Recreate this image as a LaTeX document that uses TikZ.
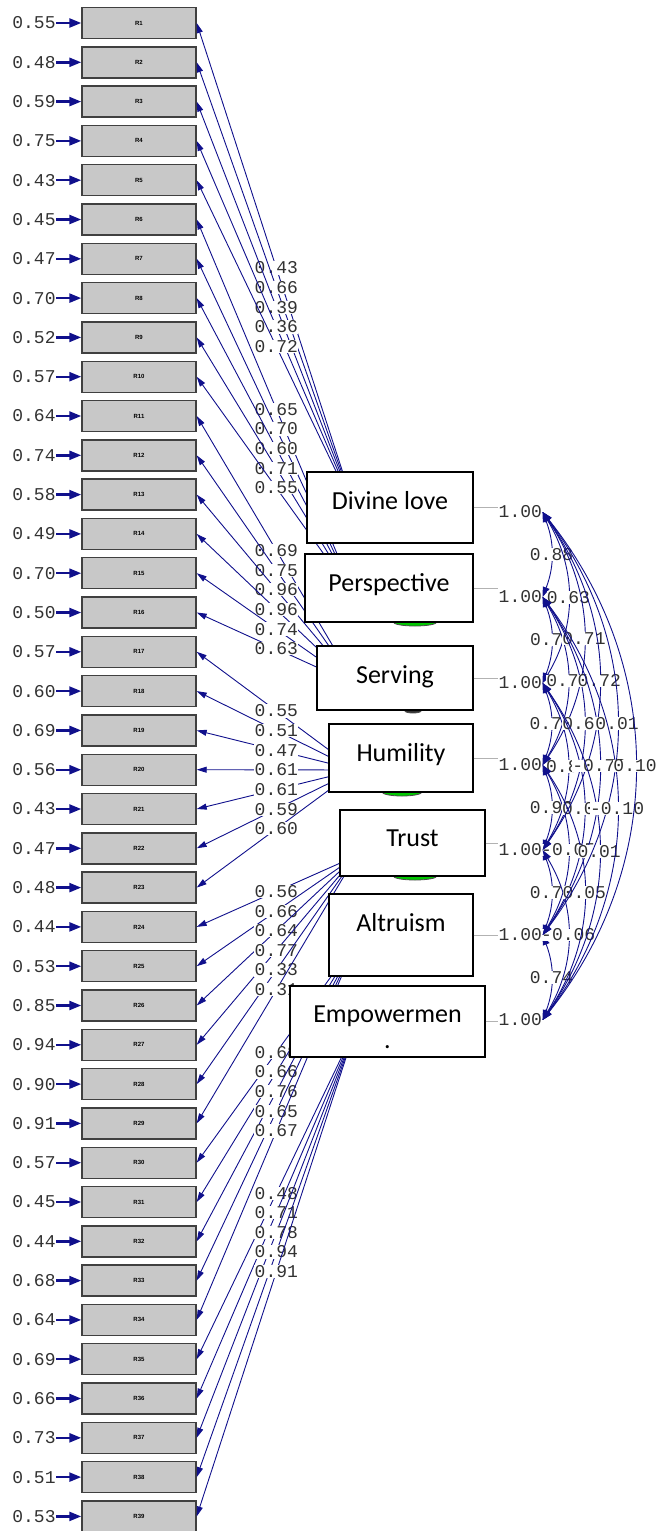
\documentclass[tikz,border=0pt]{standalone}
\usepackage{fontspec}
\setmainfont{Carlito}
\newfontfamily\lismono{Liberation Mono}
\newfontfamily\boxfont{Liberation Sans}
\usetikzlibrary{positioning,arrows.meta}
\definecolor{lisnavy}{RGB}{16,16,140}
\definecolor{obsgray}{RGB}{200,200,200}
\definecolor{numgray}{RGB}{50,50,50}
\definecolor{ellgreen}{RGB}{0,200,0}

\begin{document}
\begin{tikzpicture}[x=1pt, y=-1pt, >={Triangle[length=10pt,width=6pt]},
  obs/.style={rectangle, draw=black!75, line width=1.4pt, fill=obsgray, minimum width=114pt, minimum height=31pt, inner sep=0pt, font=\boxfont\bfseries\fontsize{6}{7}\selectfont},
  num/.style={font=\lismono\fontsize{18}{20}\selectfont, text=numgray, inner sep=0.5pt},
  loadlab/.style={num, fill=white},
  covlab/.style={num, fill=white, inner sep=0pt},
  latent/.style={rectangle, draw=black, line width=1.3pt, fill=white, inner sep=0pt},
  latname/.style={font=\fontsize{26}{26}\selectfont, inner sep=0pt, align=center, anchor=north},
  load/.style={->, draw=lisnavy, line width=0.9pt},
  err/.style={-{Triangle[length=12pt,width=9pt]}, draw=lisnavy, line width=2.4pt},
  cov/.style={{Triangle[length=10pt,width=7pt]}-{Triangle[length=10pt,width=7pt]}, draw=lisnavy, line width=0.9pt},
  varline/.style={draw=gray!60, line width=0.8pt},
  sliver/.style={fill=ellgreen, draw=black!70, line width=0.8pt}]

  \useasboundingbox (0,0) rectangle (661,1531);

  % observed variables and error terms
  \foreach \ri/\ev in {1/0.55, 2/0.48, 3/0.59, 4/0.75, 5/0.43, 6/0.45, 7/0.47, 8/0.70, 9/0.52, 10/0.57,
      11/0.64, 12/0.74, 13/0.58, 14/0.49, 15/0.70, 16/0.50, 17/0.57, 18/0.60, 19/0.69, 20/0.56,
      21/0.43, 22/0.47, 23/0.48, 24/0.44, 25/0.53, 26/0.85, 27/0.94, 28/0.90, 29/0.91, 30/0.57,
      31/0.45, 32/0.44, 33/0.68, 34/0.64, 35/0.69, 36/0.66, 37/0.73, 38/0.51, 39/0.53} {
    \node[obs] (R\ri) at (139,{23+(\ri-1)*39.3}) {R\ri};
    \node[num] (e\ri) [left=25pt of R\ri] {\ev};
    \draw[err] (e\ri) -- (R\ri);
  }

  % centres of the latent variables
  \foreach \fa/\y in {1/513, 2/599, 3/685, 4/770, 5/856, 6/942, 7/1027}
    \coordinate (L\fa) at (356,\y);

  % loadings
  \foreach \fa/\ri/\lv in {1/1/0.43, 1/2/0.66, 1/3/0.39, 1/4/0.36, 1/5/0.72,
      2/6/0.65, 2/7/0.70, 2/8/0.60, 2/9/0.71, 2/10/0.55,
      3/11/0.69, 3/12/0.75, 3/13/0.96, 3/14/0.96, 3/15/0.74, 3/16/0.63,
      4/17/0.55, 4/18/0.51, 4/19/0.47, 4/20/0.61, 4/21/0.61, 4/22/0.59, 4/23/0.60,
      5/24/0.56, 5/25/0.66, 5/26/0.64, 5/27/0.77, 5/28/0.33, 5/29/0.31,
      6/30/0.68, 6/31/0.66, 6/32/0.76, 6/33/0.65, 6/34/0.67,
      7/35/0.48, 7/36/0.71, 7/37/0.78, 7/38/0.94, 7/39/0.91}
    \draw[load] (L\fa) -- node[loadlab] {\lv} (R\ri.east);

  % bits of ellipses under the boxes
  \draw[sliver] (415,622) ellipse [x radius=22, y radius=4];
  \draw[sliver, fill=black!80] (413,711) ellipse [x radius=8, y radius=2];
  \draw[sliver] (402,792) ellipse [x radius=20, y radius=4];
  \draw[sliver] (415,876) ellipse [x radius=22, y radius=4];

  % latent variables
  \node[latent, minimum width=166pt, minimum height=71pt] (F1) at (390,507.5) {};
  \node[latent, minimum width=168pt, minimum height=68pt] (F2) at (389,588) {};
  \node[latent, minimum width=156pt, minimum height=64pt] (F3) at (395,678) {};
  \node[latent, minimum width=144pt, minimum height=68pt] (F4) at (401,758) {};
  \node[latent, minimum width=145pt, minimum height=66pt] (F5) at (412.5,843) {};
  \node[latent, minimum width=144pt, minimum height=82pt] (F6) at (401,935) {};
  \node[latent, minimum width=195pt, minimum height=71pt] (F7) at (387.5,1021.5) {};

  \node[latname, below=20pt of F1.north] (n1) {Divine love};
  \node[latname, below=20pt of F2.north] (n2) {Perspective};
  \node[latname, below=20pt of F3.north] (n3) {Serving};
  \node[latname, below=20pt of F4.north] (n4) {Humility};
  \node[latname, below=20pt of F5.north] (n5) {Trust};
  \node[latname, below=20pt of F6.north] (n6) {Altruism};
  \node[latname, below=20pt of F7.north] (n7) {Empowermen\\.};

  % variances
  \foreach \fa/\y in {1/512, 2/597, 3/683, 4/765, 5/850, 6/935, 7/1020} {
    \node[num, anchor=west] (v\fa) at (498,\y) {1.00};
    \draw[varline] (F\fa.east) -- (F\fa.east -| v\fa.west);
  }

  % correlations between the latent variables
  \foreach \ca/\cb/\bd/\cv in {1/2/21/0.88, 2/3/21/0.70, 3/4/21/0.70, 4/5/21/0.90, 5/6/21/0.70, 6/7/21/0.74,
      1/3/31/0.63, 2/4/31/0.70, 3/5/31/0.80, 4/6/31/-0.05, 5/7/31/-0.06,
      1/4/34/0.71, 2/5/34/0.60, 3/6/34/0.06, 4/7/34/0.05,
      1/5/35/0.72, 2/6/35/-0.70, 3/7/35/0.01,
      1/6/37/0.01, 2/7/37/-0.10,
      1/7/38.5/0.10}
    \draw[cov] (v\ca.east) to[bend left=\bd] node[covlab] {\cv} (v\cb.east);
\end{tikzpicture}
\end{document}
